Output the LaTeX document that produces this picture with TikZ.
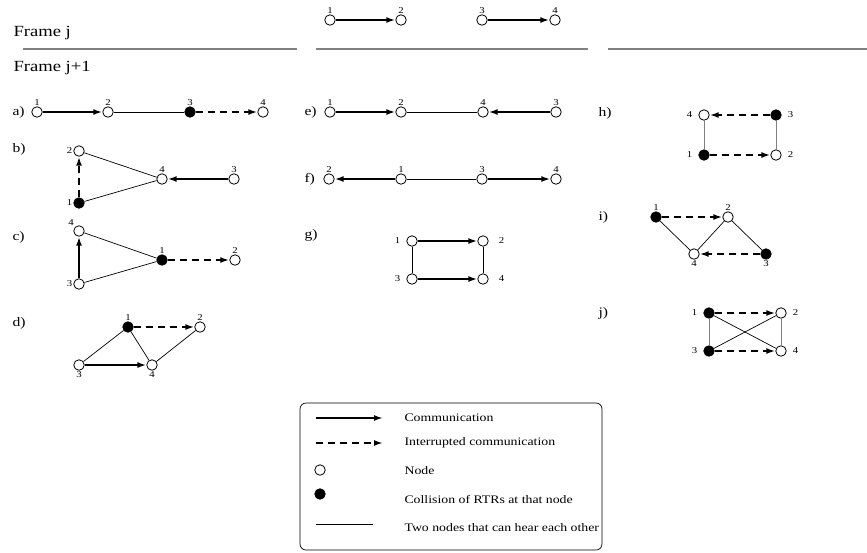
\documentclass[tikz,border=0pt]{standalone}
\usepackage{fontspec}
\setmainfont[FakeStretch=1.2]{Liberation Serif}
\usetikzlibrary{arrows.meta}
\newcommand{\numfont}{\fontsize{9}{10}\selectfont}
\begin{document}
\begin{tikzpicture}[x=1pt, y=-1pt,
    every label/.style={font=\numfont, inner sep=1pt},
    nd/.style={circle, draw, line width=0.8pt, fill=white, inner sep=0pt, minimum size=10.5pt},
    hit/.style={nd, fill=black},
    comm/.style={line width=2.6pt, -{Latex[length=9pt,width=6pt]}},
    lost/.style={comm, dash pattern=on 7pt off 5pt},
    hear/.style={line width=0.7pt},
    panel/.style={font=\fontsize{13}{15}\selectfont, anchor=west},
    frame/.style={font=\fontsize{15.5}{17}\selectfont, anchor=west},
    sep/.style={gray, line width=1.6pt}]
  \useasboundingbox (0,0) rectangle (867,552);
  % frames
  \node [frame] (fj) at (10,33) {Frame j};
  \node [frame] (fj1) at (10,68) {Frame j+1};
  \draw [sep] (23,49) -- (297,49);
  \draw [sep] (316,49) -- (588,49);
  \draw [sep] (608,49) -- (867,49);
  % frame j
  \node [nd, label=above:1] (t1) at (330,20) {};
  \node [nd, label=above:2] (t2) at (401,20) {};
  \node [nd, label=above:3] (t3) at (482,20) {};
  \node [nd, label=above:4] (t4) at (555,20) {};
  \path (t1) edge[comm] (t2);
  \path (t3) edge[comm] (t4);
  % a)
  \node [panel] (pa) at (9,112) {a)};
  \node [nd, label=above:1] (a1) at (37,112) {};
  \node [nd, label=above:2] (a2) at (108,112) {};
  \node [hit, label=above:3] (a3) at (190,112) {};
  \node [nd, label=above:4] (a4) at (263,112) {};
  \path (a1) edge[comm] (a2);
  \path (a2) edge[hear] (a3);
  \path (a3) edge[lost] (a4);
  % b)
  \node [panel] (pb) at (9,149) {b)};
  \node [nd, label=left:2] (b2) at (79,151) {};
  \node [hit, label=left:1] (b1) at (79,203) {};
  \node [nd, label=above:4] (b4) at (162,179) {};
  \node [nd, label=above:3] (b3) at (234,179) {};
  \path (b1) edge[lost] (b2);
  \path (b2) edge[hear] (b4);
  \path (b1) edge[hear] (b4);
  \path (b3) edge[comm] (b4);
  % c)
  \node [panel] (pc) at (9,237) {c)};
  \node [nd, label=above left:4] (c4) at (79,231) {};
  \node [nd, label=left:3] (c3) at (79,284) {};
  \node [hit, label=above:1] (c1) at (162,260) {};
  \node [nd, label=above:2] (c2) at (235,260) {};
  \path (c3) edge[comm] (c4);
  \path (c4) edge[hear] (c1);
  \path (c3) edge[hear] (c1);
  \path (c1) edge[lost] (c2);
  % d)
  \node [panel] (pd) at (9,323) {d)};
  \node [hit, label=above:1] (d1) at (128,327) {};
  \node [nd, label=above:2] (d2) at (200,327) {};
  \node [nd, label=below:3] (d3) at (79,365) {};
  \node [nd, label=below:4] (d4) at (152,365) {};
  \path (d1) edge[lost] (d2);
  \path (d3) edge[hear] (d1);
  \path (d1) edge[hear] (d4);
  \path (d4) edge[hear] (d2);
  \path (d3) edge[comm] (d4);
  % e)
  \node [panel] (pe) at (301,112) {e)};
  \node [nd, label=above:1] (e1) at (330,112) {};
  \node [nd, label=above:2] (e2) at (401,112) {};
  \node [nd, label=above:4] (e4) at (483,112) {};
  \node [nd, label=above:3] (e3) at (556,112) {};
  \path (e1) edge[comm] (e2);
  \path (e2) edge[hear] (e4);
  \path (e3) edge[comm] (e4);
  % f)
  \node [panel] (pf) at (301,179) {f)};
  \node [nd, label=above:2] (f2) at (329,179) {};
  \node [nd, label=above:1] (f1) at (401,179) {};
  \node [nd, label=above:3] (f3) at (482,179) {};
  \node [nd, label=above:4] (f4) at (556,179) {};
  \path (f1) edge[comm] (f2);
  \path (f1) edge[hear] (f3);
  \path (f3) edge[comm] (f4);
  % g)
  \node [panel] (pg) at (301,235) {g)};
  \node [nd, label={[label distance=5pt]left:1}] (g1) at (412,241) {};
  \node [nd, label={[label distance=9pt]right:2}] (g2) at (483,241) {};
  \node [nd, label={[label distance=5pt]left:3}] (g3) at (412,279) {};
  \node [nd, label={[label distance=9pt]right:4}] (g4) at (483,279) {};
  \path (g1) edge[comm] (g2);
  \path (g3) edge[comm] (g4);
  \path (g1) edge[hear] (g3);
  \path (g2) edge[hear] (g4);
  % h)
  \node [panel] (ph) at (595,113) {h)};
  \node [nd, label={[label distance=5pt]left:4}] (h4) at (704,115) {};
  \node [hit, label={[label distance=5pt]right:3}] (h3) at (776,115) {};
  \node [hit, label={[label distance=5pt]left:1}] (h1) at (704,155) {};
  \node [nd, label={[label distance=5pt]right:2}] (h2) at (776,155) {};
  \path (h3) edge[lost] (h4);
  \path (h1) edge[lost] (h2);
  \path (h4) edge[hear, gray] (h1);
  \path (h3) edge[hear, gray] (h2);
  % i)
  \node [panel] (pi) at (595,217) {i)};
  \node [hit, label=above:1] (i1) at (656,217) {};
  \node [nd, label=above:2] (i2) at (728,217) {};
  \node [nd, label=below:4] (i4) at (694,254) {};
  \node [hit, label=below:3] (i3) at (766,254) {};
  \path (i1) edge[lost] (i2);
  \path (i3) edge[lost] (i4);
  \path (i1) edge[hear] (i4);
  \path (i4) edge[hear] (i2);
  \path (i2) edge[hear] (i3);
  % j)
  \node [panel] (pj) at (595,313) {j)};
  \node [hit, label={[label distance=5pt]left:1}] (j1) at (709,313) {};
  \node [nd, label={[label distance=5pt]right:2}] (j2) at (781,313) {};
  \node [hit, label={[label distance=5pt]left:3}] (j3) at (709,351) {};
  \node [nd, label={[label distance=5pt]right:4}] (j4) at (781,351) {};
  \path (j1) edge[lost] (j2);
  \path (j3) edge[lost] (j4);
  \path (j1) edge[hear, gray] (j3);
  \path (j2) edge[hear, gray] (j4);
  \path (j1) edge[hear] (j4);
  \path (j3) edge[hear] (j2);
  % legend
  \draw [rounded corners=6pt, line width=0.7pt] (300,403) rectangle (602,550);
  \coordinate (k1a) at (316,418); \coordinate (k1b) at (383,418);
  \coordinate (k2a) at (316,443); \coordinate (k2b) at (383,443);
  \coordinate (k5a) at (316,524); \coordinate (k5b) at (373,524);
  \path (k1a) edge[comm] (k1b);
  \path (k2a) edge[lost] (k2b);
  \node [nd] (k3) at (320,470) {};
  \node [hit] (k4) at (320,494) {};
  \path (k5a) edge[hear] (k5b);
  \begin{scope}[every node/.style={anchor=west, font=\fontsize{11.5}{13}\selectfont}]
    \node (l1) at (401,418) {Communication};
    \node (l2) at (401,443) {Interrupted communication};
    \node (l3) at (401,471) {Node};
    \node (l4) at (401,499) {Collision of RTRs at that node};
    \node (l5) at (401,528) {Two nodes that can hear each other};
  \end{scope}
\end{tikzpicture}
\end{document}
